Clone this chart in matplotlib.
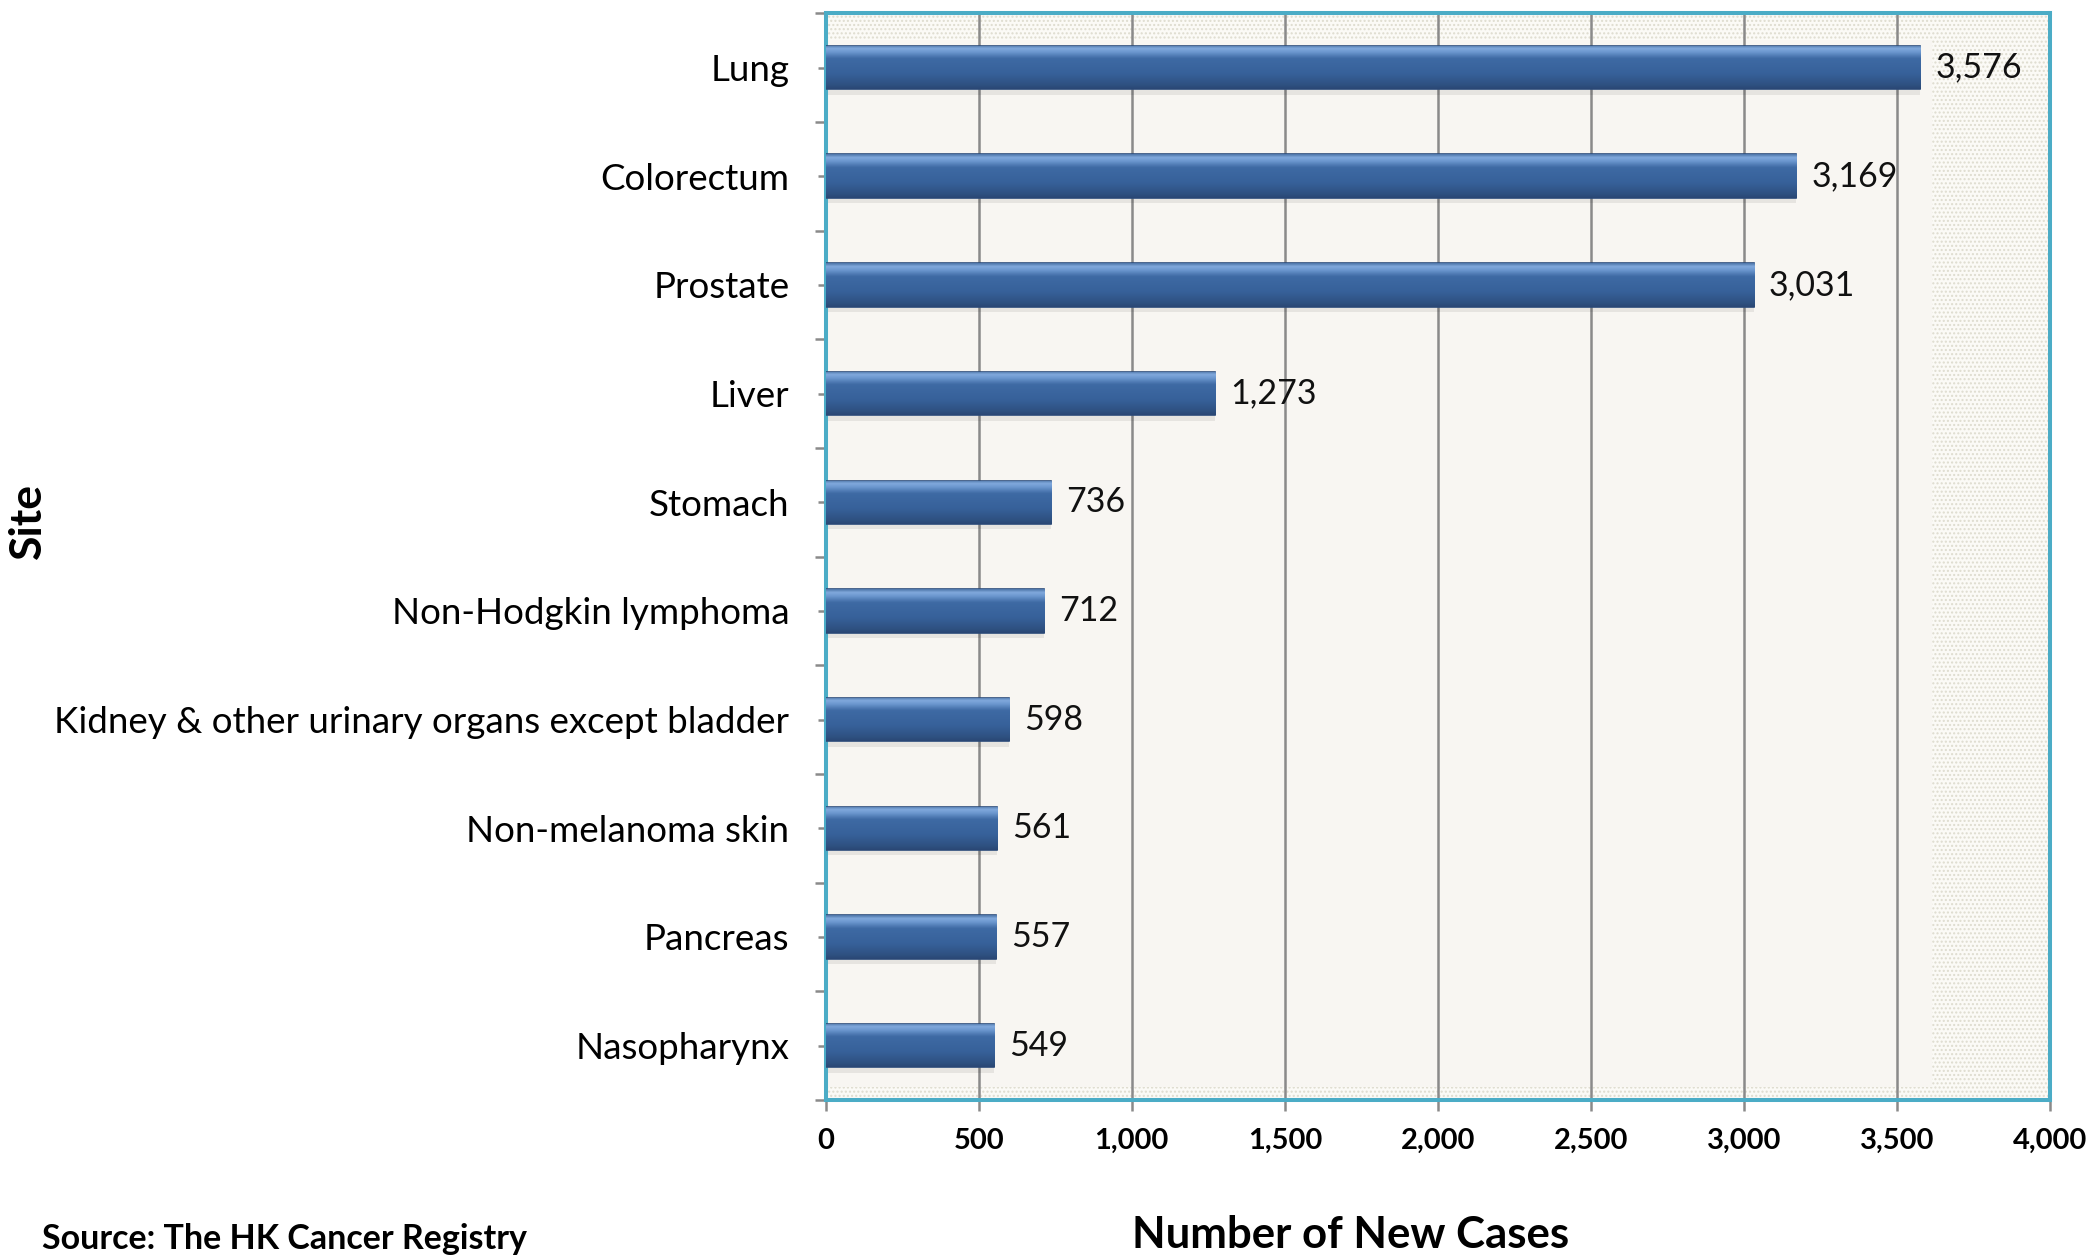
import matplotlib as mpl
import matplotlib.pyplot as plt
import numpy as np
from matplotlib.colors import LinearSegmentedColormap
from matplotlib.patches import Rectangle
from matplotlib.ticker import FuncFormatter, MultipleLocator

# data
sites = ['Lung', 'Colorectum', 'Prostate', 'Liver', 'Stomach', 'Non-Hodgkin lymphoma',
         'Kidney & other urinary organs except bladder', 'Non-melanoma skin',
         'Pancreas', 'Nasopharynx']
new_cases = [3576, 3169, 3031, 1273, 736, 712, 598, 561, 557, 549]
x_ticks = [0, 500, 1000, 1500, 2000, 2500, 3000, 3500, 4000]

plt.rcParams['font.family'] = ['Lato', 'DejaVu Sans']

fig = plt.figure(figsize=(20.9, 12.55), dpi=100)
ax = fig.add_axes([0.395, 0.1235, 0.586, 0.866])

# background: dotted chart area + plain plot area
ax.patch.set_facecolor('#FBFAF6')
ax.add_patch(Rectangle((0, 0), 1, 1, transform=ax.transAxes, facecolor='#FBFAF6',
                       edgecolor='#DEDCCF', hatch='....', lw=0, zorder=0.1))
ax.add_patch(Rectangle((0, 0.012), 0.9035, 0.963, transform=ax.transAxes,
                       facecolor='#F8F6F2', lw=0, zorder=0.2))

y = np.arange(len(sites))
bars = ax.barh(y, new_cases, height=0.40, color='#3A6599', edgecolor='#2C4C7A',
               linewidth=1.2, zorder=3)

# gradient fill on each bar (light edge on top)
cmap = LinearSegmentedColormap.from_list('bar', [
    (0.0, '#2A4774'), (0.08, '#2E5080'), (0.35, '#37619A'), (0.7, '#3E6AA4'),
    (0.85, '#6D98D0'), (0.93, '#82AADD'), (1.0, '#4C74A8')])
grad = np.linspace(0, 1, 100).reshape(-1, 1)
for b in bars:
    x0, y0 = b.get_x(), b.get_y()
    w, h = b.get_width(), b.get_height()
    # soft shadow below the bar (y axis is inverted)
    ax.add_patch(Rectangle((x0, y0 + h), w, 0.05, facecolor='#000000', alpha=0.07,
                           lw=0, zorder=2.5))
    im = ax.imshow(grad, cmap=cmap, aspect='auto', extent=(x0, x0 + w, y0 + h, y0),
                   origin='lower', zorder=3.1, interpolation='bicubic')
    im.set_clip_path(b)

for b, v in zip(bars, new_cases):
    ax.annotate(f'{v:,}', xy=(b.get_width(), b.get_y() + b.get_height() / 2),
                xytext=(11, 0), textcoords='offset points', va='center', ha='left',
                fontsize=24.5, color='#111111', zorder=4)

ax.set_xlim(0, 4000)
ax.set_ylim(len(sites) - 0.5, -0.5)
ax.set_xticks(x_ticks)
ax.xaxis.set_major_formatter(FuncFormatter(lambda v, p: f'{int(v):,}'))
ax.set_yticks(y)
ax.set_yticklabels(sites)
ax.yaxis.set_minor_locator(MultipleLocator(1, offset=0.5))

ax.grid(axis='x', color='#8A8A8A', linewidth=1.8, zorder=1)
ax.set_axisbelow(True)

for s in ax.spines.values():
    s.set_color('#4BACC6')
    s.set_linewidth(2.9)

ax.tick_params(axis='y', which='major', length=6, width=1.8, color='#8A8A8A',
               pad=20, labelsize=26.5)
ax.tick_params(axis='y', which='minor', length=8, width=1.8, color='#8A8A8A')
ax.tick_params(axis='x', which='major', length=8, width=1.8, color='#8A8A8A',
               pad=12, labelsize=21)
for t in ax.get_xticklabels():
    t.set_fontweight('bold')

fig.text(0.0135, 0.585, 'Site', rotation=90, ha='center', va='center',
         fontsize=32, fontweight='bold')
fig.text(0.646, 0.016, 'Number of New Cases', ha='center', va='center',
         fontsize=31.5, fontweight='bold')
fig.text(0.02, 0.013, 'Source: The HK Cancer Registry', ha='left', va='center',
         fontsize=24.5, fontweight='bold')

fig.savefig('out.png', dpi=100)
